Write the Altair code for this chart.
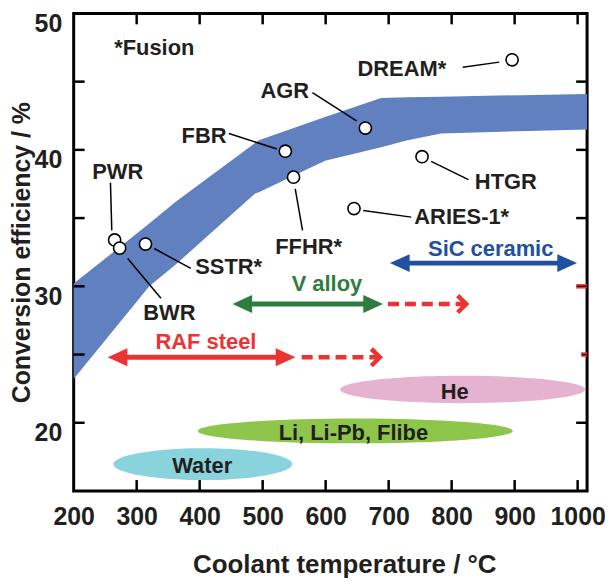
import altair as alt
import pandas as pd

# ---------------- data ----------------
X_DOMAIN = [200, 1015]
Y_DOMAIN = [15, 50]
W, H = 516, 480

band_temp = [200, 320, 362, 488, 494, 599, 688, 730, 783, 1015]
band_upper = [30.2, 34.6, 36.2, 40.5, 40.7, 42.4, 43.8, 43.85, 43.9, 44.1]
band_lower = [23.2, 30.0, 31.6, 36.8, 36.9, 39.2, 40.2, 40.7, 41.2, 41.5]

reactor_names = ["PWR", "BWR", "SSTR*", "FBR", "FFHR*", "AGR", "ARIES-1*", "HTGR", "DREAM*"]
reactor_temp = [265, 273, 314, 536, 549, 663, 645, 753, 896]
reactor_eff = [33.4, 32.8, 33.1, 39.9, 38.0, 41.6, 35.7, 39.5, 46.6]
label_temp = [270, 352, 446, 407, 573, 535, 816, 886, 721]
label_eff = [38.35, 28.05, 31.43, 41.03, 32.89, 44.31, 35.07, 37.63, 45.92]
leader_t0 = [258.4, 285.8, 327.9, 446.4, 551.7, 579.0, 659.6, 767.5, 817.6]
leader_e0 = [37.6, 32.04, 32.77, 41.2, 37.14, 44.19, 35.56, 39.16, 46.06]
leader_t1 = [260.5, 338.5, 385.9, 522.7, 563.3, 649.0, 735.9, 826.6, 875.5]
leader_e1 = [34.1, 29.12, 31.31, 40.06, 34.10, 42.12, 35.07, 37.82, 46.43]

materials = ["RAF steel", "V alloy", "SiC ceramic"]
mat_start = [254, 452, 702]
mat_end = [552, 691, 999]
mat_eff = [24.8, 28.7, 31.7]
mat_label_temp = [410, 602, 862]
mat_label_eff = [25.9, 30.15, 32.75]
mat_color = ["#ed3232", "#2e7d3e", "#2150a0"]

dash_start = [562, 699]
dash_end = [686, 823]
dash_eff = [24.8, 28.7]

coolants = ["Water", "Li, Li-Pb, Flibe", "He"]
cool_t0 = [263, 397, 623]
cool_t1 = [547, 897, 1012]
cool_eff = [16.97, 19.4, 22.44]
cool_half = [1.17, 0.91, 1.0]
cool_label_temp = [404, 644, 805]
cool_label_eff = [16.85, 19.28, 22.24]
cool_color = ["#89d4dc", "#8dc64a", "#e5b2d0"]

x_label_vals = [200, 300, 400, 500, 600, 700, 800, 900, 1000]
y_label_vals = [20, 30, 40, 50]
x_tick_vals = [300, 400, 500, 600, 700, 800, 900, 1000]
y_tick_vals = [20, 25, 30, 35, 40, 45]
right_black_ticks = [20, 35, 40, 45]
right_red_ticks = [25, 30]

note_temp = [328]
note_eff = [47.47]

# ---------------- styling ----------------
FONT = "Liberation Sans"
TXT = "#231f20"
xs = alt.Scale(domain=X_DOMAIN, nice=False, zero=False)
ys = alt.Scale(domain=Y_DOMAIN, nice=False, zero=False)
PX_PER_T = W / (X_DOMAIN[1] - X_DOMAIN[0])
PX_PER_E = H / (Y_DOMAIN[1] - Y_DOMAIN[0])

x_axis = alt.Axis(values=x_label_vals, format="d", grid=False, ticks=False,
                  domain=False, labelFont=FONT, labelFontSize=25, labelFontWeight="bold",
                  labelColor=TXT, labelPadding=14, labelFlush=False, labelOverlap=False,
                  title="Coolant temperature / °C", titleFont=FONT, titleFontSize=26,
                  titleFontWeight="bold", titleColor=TXT, titleX=272, titleY=74,
                  titleBaseline="middle", titleAlign="center")
y_axis = alt.Axis(values=y_label_vals, format="d", grid=False, ticks=False, domain=False,
                  labelFont=FONT, labelFontSize=25, labelFontWeight="bold", labelColor=TXT,
                  labelPadding=12, labelOffset=10, labelFlush=False, labelOverlap=False,
                  title="Conversion efficiency / %", titleFont=FONT, titleFontSize=25,
                  titleFontWeight="bold", titleColor=TXT, titleAngle=270, titleX=-52,
                  titleY=240, titleBaseline="middle", titleAlign="center")


def X(field):
    return alt.X(field, type="quantitative", scale=xs, axis=x_axis)


def Y(field):
    return alt.Y(field, type="quantitative", scale=ys, axis=y_axis)


# band
band_df = pd.DataFrame({"t": band_temp, "up": band_upper, "lo": band_lower})
band = alt.Chart(band_df).mark_area(color="#6080c0", opacity=1).encode(
    x=X("t"), y=Y("up"), y2="lo:Q",
)


def ellipse_path(k):
    c = 0.5523
    return (f"M -1 0 C -1 {-c*k:.4f} {-c:.4f} {-k:.4f} 0 {-k:.4f} "
            f"C {c:.4f} {-k:.4f} 1 {-c*k:.4f} 1 0 "
            f"C 1 {c*k:.4f} {c:.4f} {k:.4f} 0 {k:.4f} "
            f"C {-c:.4f} {k:.4f} -1 {c*k:.4f} -1 0 Z")


ellipses = []
for i in range(len(coolants)):
    rx = (cool_t1[i] - cool_t0[i]) / 2 * PX_PER_T
    ry = cool_half[i] * PX_PER_E
    df = pd.DataFrame({"t": [(cool_t0[i] + cool_t1[i]) / 2], "e": [cool_eff[i]]})
    ellipses.append(
        alt.Chart(df).mark_point(shape=ellipse_path(ry / rx), size=(2 * rx) ** 2, filled=True,
                                 opacity=1, color=cool_color[i], strokeWidth=0).encode(
            x=X("t"), y=Y("e")))

cool_df = pd.DataFrame({"name": coolants, "t": cool_label_temp, "e": cool_label_eff})
cool_text = alt.Chart(cool_df).mark_text(font=FONT, fontSize=22, fontWeight="bold", color=TXT,
                                         align="center", baseline="middle").encode(
    x=X("t"), y=Y("e"), text="name:N")

# material arrows
HEAD_T = 25
mat_df = pd.DataFrame({"name": materials, "s": mat_start, "e_": mat_end, "eff": mat_eff,
                       "lt": mat_label_temp, "le": mat_label_eff, "color": mat_color})
mat_df["s2"] = mat_df["s"] + HEAD_T
mat_df["e2"] = mat_df["e_"] - HEAD_T
mat_lines = alt.Chart(mat_df).mark_rule(strokeWidth=5).encode(
    x=X("s2"), x2="e2:Q", y=Y("eff"), color=alt.Color("color:N", scale=None))
head_left = alt.Chart(mat_df).mark_point(shape="M 0 0 L 2.2 -1 L 2.2 1 Z", size=324, filled=True,
                                         opacity=1, strokeWidth=0).encode(
    x=X("s"), y=Y("eff"), color=alt.Color("color:N", scale=None))
head_right = alt.Chart(mat_df).mark_point(shape="M 0 0 L -2.2 -1 L -2.2 1 Z", size=324, filled=True,
                                          opacity=1, strokeWidth=0).encode(
    x=X("e_"), y=Y("eff"), color=alt.Color("color:N", scale=None))
mat_text = alt.Chart(mat_df).mark_text(font=FONT, fontSize=22, fontWeight="bold",
                                       align="center", baseline="middle").encode(
    x=X("lt"), y=Y("le"), text="name:N", color=alt.Color("color:N", scale=None))

dash_df = pd.DataFrame({"s": dash_start, "e_": dash_end, "eff": dash_eff})
dash_df["e2"] = dash_df["e_"] - 3
dash_lines = alt.Chart(dash_df).mark_rule(strokeWidth=4.5, strokeDash=[11, 6], color="#ed3232").encode(
    x=X("s"), x2="e2:Q", y=Y("eff"))
chevrons = alt.Chart(dash_df).mark_point(shape="M -1 -1 L 0 0 L -1 1", size=289, filled=False,
                                         opacity=1, strokeWidth=4.5, color="#ed3232").encode(
    x=X("e_"), y=Y("eff"))

# reactors
lead_df = pd.DataFrame({"t0": leader_t0, "e0": leader_e0, "t1": leader_t1, "e1": leader_e1})
leaders = alt.Chart(lead_df).mark_rule(strokeWidth=1.5, color="black").encode(
    x=X("t0"), y=Y("e0"), x2="t1:Q", y2="e1:Q")
pts_df = pd.DataFrame({"name": reactor_names, "t": reactor_temp, "e": reactor_eff,
                       "lt": label_temp, "le": label_eff})
points = alt.Chart(pts_df).mark_point(shape="circle", size=150, filled=False, fill="white",
                                      stroke="black", strokeWidth=1.6, opacity=1).encode(
    x=X("t"), y=Y("e"))
labels = alt.Chart(pts_df).mark_text(font=FONT, fontSize=22, fontWeight="bold", color=TXT,
                                     align="center", baseline="middle").encode(
    x=X("lt"), y=Y("le"), text="name:N")

note_df = pd.DataFrame({"t": note_temp, "e": note_eff, "txt": ["*Fusion"]})
note = alt.Chart(note_df).mark_text(font=FONT, fontSize=22, fontWeight="bold", color=TXT,
                                    align="center", baseline="middle").encode(
    x=X("t"), y=Y("e"), text="txt:N")

# inward ticks
xt_df = pd.DataFrame({"t": x_tick_vals})
yt_df = pd.DataFrame({"e": y_tick_vals})
rb_df = pd.DataFrame({"e": right_black_ticks})
r25_df = pd.DataFrame({"e": [right_red_ticks[0]]})
r30_df = pd.DataFrame({"e": [right_red_ticks[1]]})
TK = dict(color="black", strokeWidth=2.5)
tick_bottom = alt.Chart(xt_df).mark_rule(**TK).encode(x=X("t"), y=alt.value(H), y2=alt.value(H - 11))
tick_top = alt.Chart(xt_df).mark_rule(**TK).encode(x=X("t"), y=alt.value(0), y2=alt.value(11))
tick_left = alt.Chart(yt_df).mark_rule(**TK).encode(y=Y("e"), x=alt.value(0), x2=alt.value(11))
tick_right = alt.Chart(rb_df).mark_rule(**TK).encode(y=Y("e"), x=alt.value(W), x2=alt.value(W - 11))
tick_red_25 = alt.Chart(r25_df).mark_rule(color="#ed3232", strokeWidth=4.5).encode(
    y=Y("e"), x=alt.value(W), x2=alt.value(W - 6))
tick_red_30 = alt.Chart(r30_df).mark_rule(color="#ed3232", strokeWidth=4.5).encode(
    y=Y("e"), x=alt.value(W), x2=alt.value(W - 11))
tick_red_25b = alt.Chart(r25_df).mark_rule(color="black", strokeWidth=1.2).encode(
    y=Y("e"), x=alt.value(W), x2=alt.value(W - 5))
tick_red_30b = alt.Chart(r30_df).mark_rule(color="black", strokeWidth=1.2).encode(
    y=Y("e"), x=alt.value(W), x2=alt.value(W - 10))

chart = alt.layer(
    band, *ellipses, cool_text, mat_lines, dash_lines, head_left, head_right, chevrons, mat_text,
    leaders, points, labels, note,
    tick_bottom, tick_top, tick_left, tick_right, tick_red_25, tick_red_30, tick_red_25b, tick_red_30b,
).properties(
    width=W, height=H,
    background="white",
    autosize=alt.AutoSizeParams(type="none"),
    padding={"left": 66, "top": 4, "right": 18, "bottom": 86},
).configure_view(
    stroke="black", strokeWidth=3,
)

chart.save("out.html", embed_options={"renderer": "svg", "actions": False})
